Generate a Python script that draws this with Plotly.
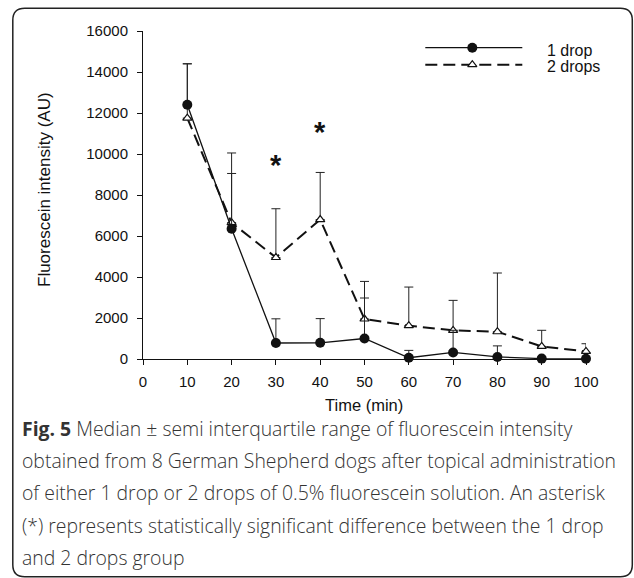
import plotly.graph_objects as go

# ---------------- data ----------------
time_min = [10, 20, 30, 40, 50, 60, 70, 80, 90, 100]
one_drop_median = [12400, 6350, 780, 790, 1000, 60, 320, 100, 20, 10]
one_drop_siqr = [2000, 3700, 1180, 1180, 1975, 360, 1080, 540, 0, 0]
two_drops_median = [11750, 6650, 4950, 6800, 1950, 1625, 1395, 1330, 615, 370]
two_drops_siqr = [2650, 2400, 2380, 2300, 1835, 1885, 1465, 2865, 785, 375]
signif_times = [30, 40]
signif_y = [9560, 11150]
x_ticks = [0, 10, 20, 30, 40, 50, 60, 70, 80, 90, 100]
y_ticks = [0, 2000, 4000, 6000, 8000, 10000, 12000, 14000, 16000]

W, H = 634, 578
L, R, T, B = 142.7, 585.7, 31.3, 359.3


def px(x):
    return (x - L) / (R - L)


def py(y):
    return (B - y) / (B - T)


fig = go.Figure()

fig.add_trace(go.Scatter(
    x=time_min, y=two_drops_median, mode="lines+markers", name="2 drops",
    line=dict(color="#111", width=2, dash="12px,6px"),
    marker=dict(symbol="triangle-up", size=8, color="white",
                line=dict(color="#111", width=1.2)),
    error_y=dict(type="data", array=two_drops_siqr,
                 arrayminus=[0] * len(two_drops_siqr), symmetric=False,
                 color="#222", thickness=1, width=4.5),
    cliponaxis=False, showlegend=False))

fig.add_trace(go.Scatter(
    x=time_min, y=one_drop_median, mode="lines+markers", name="1 drop",
    line=dict(color="#111", width=1.3),
    marker=dict(symbol="circle", size=10, color="#111",
                line=dict(color="#111", width=0)),
    error_y=dict(type="data", array=one_drop_siqr,
                 arrayminus=[0] * len(one_drop_siqr), symmetric=False,
                 color="#222", thickness=1, width=4.5),
    cliponaxis=False, showlegend=False))

SANS = "Liberation Sans"

# significance asterisks
for t, yv in zip(signif_times, signif_y):
    fig.add_annotation(x=t, y=yv, text="<b>*</b>", showarrow=False,
                       font=dict(family=SANS, size=29, color="#111"),
                       xanchor="center", yanchor="middle", yshift=-2)

# ---------------- custom legend (pixel overlay axes) ----------------
leg_x = [425, 522]
fig.add_trace(go.Scatter(x=leg_x, y=[48, 48], mode="lines",
                         line=dict(color="#111", width=1.3),
                         xaxis="x2", yaxis="y2", showlegend=False, hoverinfo="skip"))
fig.add_trace(go.Scatter(x=[472], y=[48], mode="markers",
                         marker=dict(symbol="circle", size=10, color="#111"),
                         xaxis="x2", yaxis="y2", showlegend=False, hoverinfo="skip"))
fig.add_trace(go.Scatter(x=leg_x, y=[65, 65], mode="lines",
                         line=dict(color="#111", width=2, dash="12px,6px"),
                         xaxis="x2", yaxis="y2", showlegend=False, hoverinfo="skip"))
fig.add_trace(go.Scatter(x=[472], y=[65], mode="markers",
                         marker=dict(symbol="triangle-up", size=8, color="white",
                                     line=dict(color="#111", width=1.2)),
                         xaxis="x2", yaxis="y2", showlegend=False, hoverinfo="skip"))
for txt, yy in [("1 drop", 51), ("2 drops", 67)]:
    fig.add_annotation(x=px(545), y=py(yy), xref="paper", yref="paper", text=txt,
                       showarrow=False, xanchor="left", yanchor="middle",
                       font=dict(family=SANS, size=16, color="#111"))

# ---------------- axis titles ----------------
fig.add_annotation(x=px(364), y=py(405), xref="paper", yref="paper", text="Time (min)",
                   showarrow=False, xanchor="center", yanchor="middle",
                   font=dict(family=SANS, size=16.5, color="#111"))
fig.add_annotation(x=px(44), y=py(190), xref="paper", yref="paper",
                   text="Fluorescein intensity (AU)", textangle=-90,
                   showarrow=False, xanchor="center", yanchor="middle",
                   font=dict(family=SANS, size=17, color="#111"))

# ---------------- caption ----------------
caption_lines = [
    "<b>Fig. 5</b> Median ± semi interquartile range of fluorescein intensity",
    "obtained from 8 German Shepherd dogs after topical administration",
    "of either 1 drop or 2 drops of 0.5% fluorescein solution. An asterisk",
    "(*) represents statistically significant difference between the 1 drop",
    "and 2 drops group",
]
cap_y = [429, 461, 493, 526, 558]
for line, yy in zip(caption_lines, cap_y):
    fig.add_annotation(x=px(20), y=py(yy), xref="paper", yref="paper", text=line,
                       showarrow=False, xanchor="left", yanchor="middle",
                       font=dict(family="Open Sans", size=19.4, color="#333", weight=300))

# ---------------- rounded border ----------------
bx0, by0, bx1, by1, r = 12.5, 8.5, 632, 577, 12
path = (f"M {px(bx0 + r)},{py(by0)} L {px(bx1 - r)},{py(by0)} "
        f"Q {px(bx1)},{py(by0)} {px(bx1)},{py(by0 + r)} "
        f"L {px(bx1)},{py(by1 - r)} Q {px(bx1)},{py(by1)} {px(bx1 - r)},{py(by1)} "
        f"L {px(bx0 + r)},{py(by1)} Q {px(bx0)},{py(by1)} {px(bx0)},{py(by1 - r)} "
        f"L {px(bx0)},{py(by0 + r)} Q {px(bx0)},{py(by0)} {px(bx0 + r)},{py(by0)} Z")
fig.add_shape(type="path", path=path, xref="paper", yref="paper",
              line=dict(color="#222", width=1.5), layer="above")

axis_font = dict(family=SANS, size=15, color="#111")
fig.update_layout(
    width=W, height=H,
    margin=dict(l=L, r=W - R, t=T, b=H - B, pad=0),
    paper_bgcolor="white", plot_bgcolor="white",
    xaxis=dict(range=[0, 100], tickvals=x_ticks, ticktext=[str(v) for v in x_ticks],
               ticks="outside", ticklen=5, ticklabelstandoff=4,
               tickcolor="#111", showline=True, linecolor="#111", linewidth=1,
               showgrid=False, zeroline=False, tickfont=axis_font),
    yaxis=dict(range=[0, 16000], tickvals=y_ticks, ticktext=[str(v) for v in y_ticks],
               ticks="outside", ticklen=5, ticklabelstandoff=6,
               tickcolor="#111", showline=True, linecolor="#111", linewidth=1,
               showgrid=False, zeroline=False, tickfont=axis_font),
    xaxis2=dict(range=[L, R], overlaying="x", visible=False, fixedrange=True),
    yaxis2=dict(range=[B, T], overlaying="y", visible=False, fixedrange=True),
    showlegend=False,
)

fig.write_html("out.html", config={"displayModeBar": False},
               post_script="document.body.style.margin='0';document.body.style.padding='0';")
